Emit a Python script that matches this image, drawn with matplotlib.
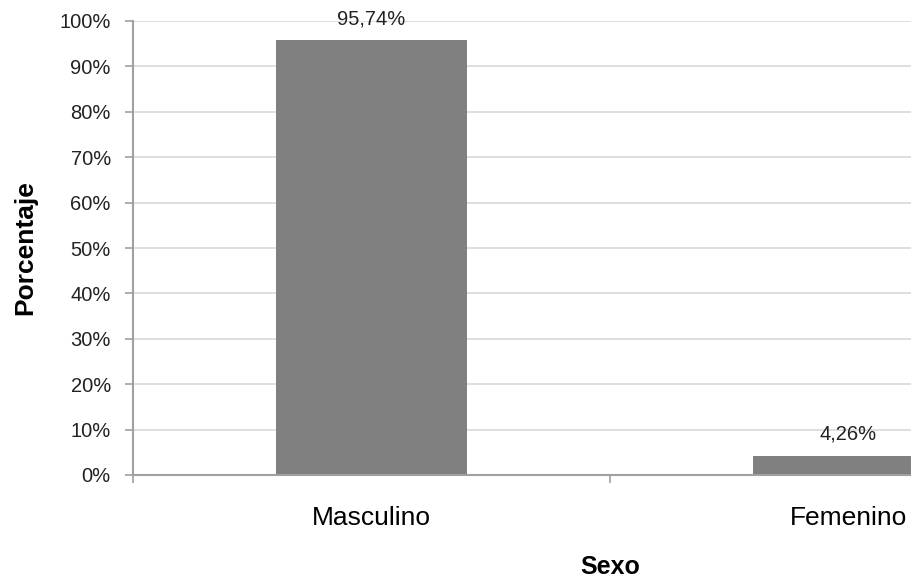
import matplotlib.pyplot as plt
from matplotlib.ticker import FuncFormatter, MultipleLocator

categorias = ['Masculino', 'Femenino']
porcentajes = [95.74, 4.26]
etiquetas = ['95,74%', '4,26%']

plt.rcParams['font.family'] = ['Liberation Sans', 'DejaVu Sans']

fig = plt.figure(figsize=(9.12, 5.77), dpi=100)
# the original is cropped on the right, so the axes run past the figure edge
ax = fig.add_axes([133 / 912, 1 - 475 / 577, 954 / 912, 454 / 577])

x = range(len(categorias))
bars = ax.bar(x, porcentajes, width=0.4, color='#808080', zorder=3)

for bar, txt in zip(bars, etiquetas):
    ax.annotate(txt, (bar.get_x() + bar.get_width() / 2, bar.get_height()),
                xytext=(0, 11.5), textcoords='offset points',
                ha='center', va='baseline', fontsize=14.5, color='#222222')

ax.set_xlim(-0.5, 1.5)
ax.set_ylim(0, 100)
ax.yaxis.set_major_locator(MultipleLocator(10))
ax.yaxis.set_major_formatter(FuncFormatter(lambda v, p: f'{v:.0f}%'))
ax.grid(axis='y', color='#d9d9d9', linewidth=1.2, zorder=0)

ax.set_xticks(list(x))
ax.set_xticklabels(categorias, fontsize=19)
ax.set_xticks([-0.5, 0.5, 1.5], minor=True)
ax.tick_params(axis='x', which='major', length=0, pad=22)
ax.tick_params(axis='x', which='minor', length=6, color='#a0a0a0', width=1.2)
ax.tick_params(axis='y', length=6, color='#a0a0a0', width=1.2, labelsize=14.5, pad=10,
               labelcolor='#222222')

for side in ['top', 'right']:
    ax.spines[side].set_visible(False)
for side in ['left', 'bottom']:
    ax.spines[side].set_color('#a0a0a0')
    ax.spines[side].set_linewidth(1.5)
    ax.spines[side].set_zorder(4)

ax.set_xlabel('Sexo', fontsize=18, fontweight='bold', labelpad=18)
ax.set_ylabel('Porcentaje', fontsize=19, fontweight='bold', labelpad=16)

fig.savefig('out.png', dpi=100)
